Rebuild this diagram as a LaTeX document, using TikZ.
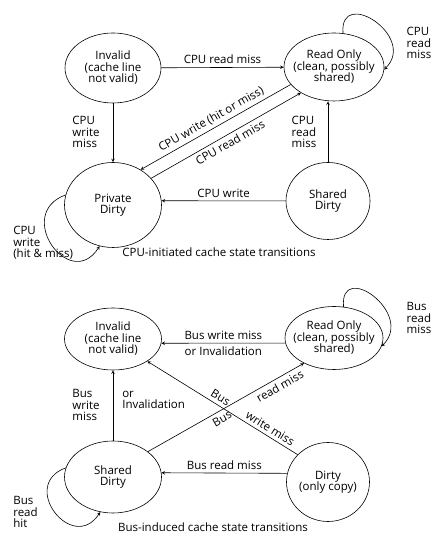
\documentclass[tikz,border=0pt]{standalone}
\usepackage{fontspec}
\setmainfont{Open Sans}
\usepackage{tikz}
\usetikzlibrary{arrows,shapes.geometric}

\begin{document}
\begin{tikzpicture}[>=stealth,x=1pt,y=1pt,line width=0.6pt,
   every node/.style={font=\fontsize{11.5}{11.5}\selectfont},
   cstate/.style={draw,ellipse,align=center,inner xsep=-14pt,inner ysep=-2pt},
   note/.style={align=left,inner sep=0pt}]
   \useasboundingbox (0,0) rectangle (440,545);

   % CPU-initiated transitions
   \node[cstate,minimum width=96,minimum height=70] (inv1) at (113,477) {Invalid\\(cache line\\not valid)};
   \node[cstate,minimum width=100,minimum height=68] (ro1) at (334,478) {Read Only\\(clean, possibly\\shared)};
   \node[cstate,minimum width=97,minimum height=85] (pd1) at (113,340) {Private\\Dirty};
   \node[cstate,minimum width=84,minimum height=77] (sd1) at (328,344) {Shared\\Dirty};

   \node[note] (l1) at (419,502) {CPU\\read\\miss};
   \node[note] (l2) at (86,413) {CPU\\write\\miss};
   \node[note] (l3) at (304,413) {CPU\\read\\miss};
   \node[note,anchor=west] (l4) at (13,302) {CPU\\write\\(hit \& miss)};
   \node (cap1) at (219,293) {CPU-initiated cache state transitions};

   \draw [->] (inv1) -- node[above] {CPU read miss} (ro1) ;
   \draw [->] (inv1) -- (pd1) ;
   \draw [<-] (pd1.52) -- node[sloped,above] {CPU write (hit or miss)} (ro1.202) ;
   \draw [->] (pd1.35) -- node[sloped,below] {CPU read miss} (ro1.218) ;
   \draw [->] (sd1) -- (sd1 |- ro1.south) ;
   \draw [->] (sd1) -- node[above] {CPU write} (pd1.5) ;
   \draw [->] (ro1.75) to[out=95,in=45,looseness=2.2] (ro1.-3) ;
   \draw [->] (pd1.168) to[out=200,in=237,looseness=2.3] (pd1.252) ;

   % Bus-induced transitions
   \node[cstate,minimum width=97,minimum height=62] (inv2) at (113,206) {Invalid\\(cache line\\not valid)};
   \node[cstate,minimum width=98,minimum height=63] (ro2) at (334,207) {Read Only\\(clean, possibly\\shared)};
   \node[cstate,minimum width=97,minimum height=72] (sd2) at (113,68) {Shared\\Dirty};
   \node[cstate,minimum width=83,minimum height=79] (dt2) at (328,63) {Dirty\\(only copy)};

   \node[note] (m1) at (419,227) {Bus\\read\\miss};
   \node[note] (m2) at (86,140) {Bus\\write\\miss};
   \node[note,anchor=west] (m3) at (122,145) {or\\Invalidation};
   \node[note,anchor=west] (m4) at (13,33) {Bus\\read\\hit};
   \node (cap2) at (213,18) {Bus-induced cache state transitions};

   \draw [->] (ro2.186) -- node[above] {Bus write miss} node[below] {or Invalidation} (inv2.-5) ;
   \draw [->] (sd2) -- (inv2) ;
   \draw [->] (sd2.36) -- node[pos=0.45,sloped,below] {Bus}
      node[pos=0.82,sloped,below] {read miss} (ro2.220) ;
   \draw [<-] (inv2.-33) -- node[pos=0.46,sloped,above] {Bus}
      node[pos=0.79,sloped,above] {write miss} (dt2.138) ;
   \draw [->] (dt2.168) -- node[above] {Bus read miss} (sd2.5) ;
   \draw [->] (ro2.73) to[out=95,in=45,looseness=2.2] (ro2.-10) ;
   \draw [->] (sd2.169) to[out=200,in=237,looseness=2.3] (sd2.250) ;
\end{tikzpicture}
\end{document}
